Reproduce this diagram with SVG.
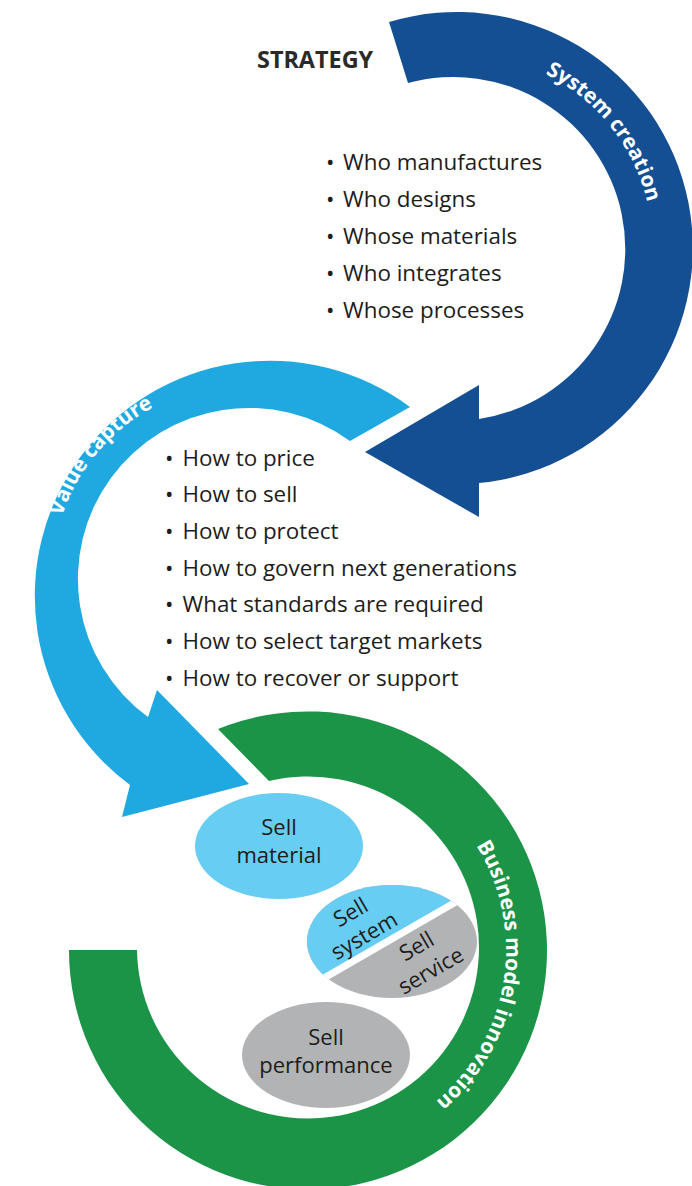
<svg xmlns="http://www.w3.org/2000/svg" width="692" height="1186" viewBox="0 0 692 1186">
<style>
.item{font-family:"Open Sans","Noto Sans",sans-serif;font-size:22.4px;fill:#1d1d1b}
.head{font-family:"Open Sans","Noto Sans",sans-serif;font-size:23.4px;font-weight:700;fill:#2b2a29}
.arcl{font-family:"Open Sans","Noto Sans",sans-serif;font-size:21px;font-weight:700;fill:#ffffff}
.lbl{font-family:"Open Sans","Noto Sans",sans-serif;font-size:22px;fill:#1d1d1b;text-anchor:middle}
</style>
<defs>
<path id="sysPath" d="M 391.3,64.8 A 195 195 0 0 1 621.5,354.2"/>
<path id="valPath" d="M 77.9,673.5 A 193 193 0 0 1 311.0,395.6"/>
<path id="bizPath" d="M 404.0,776.8 A 198 198 0 0 1 345.8,1144.4"/>
<clipPath id="upperHalf"><polygon points="520,865 520,800 260,800 260,1015"/></clipPath>
<clipPath id="splitEllipse"><ellipse cx="392" cy="941.5" rx="85" ry="56.5"/></clipPath>
</defs>
<rect width="692" height="1186" fill="#ffffff"/>

<g id="business-model-innovation">
<path d="M 218,729 A 239 239 0 1 1 69,950 L 137,950 A 171 171 0 1 0 269,781 Z" fill="#1b9448"/>
<text class="arcl"><textPath href="#bizPath" startOffset="50%" text-anchor="middle">Business model innovation</textPath></text>
</g>

<g id="system-creation">
<path d="M 389,22 A 236 236 0 1 1 479,483 L 479,517 L 365,452 L 479,385 L 479,419 A 172 172 0 1 0 408,83 Z" fill="#154f93"/>
<text class="arcl"><textPath href="#sysPath" startOffset="50%" text-anchor="middle">System creation</textPath></text>
</g>

<g id="value-capture">
<path d="M 410,407 A 234 234 0 1 0 130,785 L 122,817 L 249,784 L 157,690 L 148,717 A 168 168 0 1 1 350,441 Z" fill="#1fa9e0"/>
<text class="arcl"><textPath href="#valPath" startOffset="50%" text-anchor="middle">Value capture</textPath></text>
</g>

<g id="strategy">
<text class="head" x="257" y="68">STRATEGY</text>
</g>

<g id="system-creation-list">
<text class="item" y="169.5"><tspan x="326">•</tspan><tspan x="343">Who manufactures</tspan></text>
<text class="item" y="206.5"><tspan x="326">•</tspan><tspan x="343">Who designs</tspan></text>
<text class="item" y="243.5"><tspan x="326">•</tspan><tspan x="343">Whose materials</tspan></text>
<text class="item" y="280.5"><tspan x="326">•</tspan><tspan x="343">Who integrates</tspan></text>
<text class="item" y="317.5"><tspan x="326">•</tspan><tspan x="343">Whose processes</tspan></text>
</g>

<g id="value-capture-list">
<text class="item" y="465.5"><tspan x="165">•</tspan><tspan x="182.5">How to price</tspan></text>
<text class="item" y="502"><tspan x="165">•</tspan><tspan x="182.5">How to sell</tspan></text>
<text class="item" y="538.5"><tspan x="165">•</tspan><tspan x="182.5">How to protect</tspan></text>
<text class="item" y="575.5"><tspan x="165">•</tspan><tspan x="182.5">How to govern next generations</tspan></text>
<text class="item" y="612"><tspan x="165">•</tspan><tspan x="182.5">What standards are required</tspan></text>
<text class="item" y="648.5"><tspan x="165">•</tspan><tspan x="182.5">How to select target markets</tspan></text>
<text class="item" y="685.5"><tspan x="165">•</tspan><tspan x="182.5">How to recover or support</tspan></text>
</g>

<g id="sell-material">
<ellipse cx="279" cy="846" rx="84" ry="53" fill="#67cdf3"/>
<text class="lbl" x="279" y="835">Sell</text>
<text class="lbl" x="279" y="863">material</text>
</g>

<g id="sell-service">
<ellipse cx="392" cy="941.5" rx="85" ry="56.5" fill="#b1b3b5"/>
<g transform="translate(424,959) rotate(-30)">
<text class="lbl" x="0" y="-7">Sell</text>
<text class="lbl" x="0" y="21">service</text>
</g>
</g>

<g id="sell-system">
<ellipse cx="392" cy="941.5" rx="85" ry="56.5" fill="#67cdf3" clip-path="url(#upperHalf)"/>
<line x1="260" y1="1015" x2="520" y2="865" stroke="#ffffff" stroke-width="7" clip-path="url(#splitEllipse)"/>
<g transform="translate(358,925) rotate(-30)">
<text class="lbl" x="0" y="-7">Sell</text>
<text class="lbl" x="0" y="20">system</text>
</g>
</g>

<g id="sell-performance">
<ellipse cx="326" cy="1055" rx="84" ry="53" fill="#b1b3b5"/>
<text class="lbl" x="326" y="1045">Sell</text>
<text class="lbl" x="326" y="1073">performance</text>
</g>

<g id="connectors"></g>
</svg>
